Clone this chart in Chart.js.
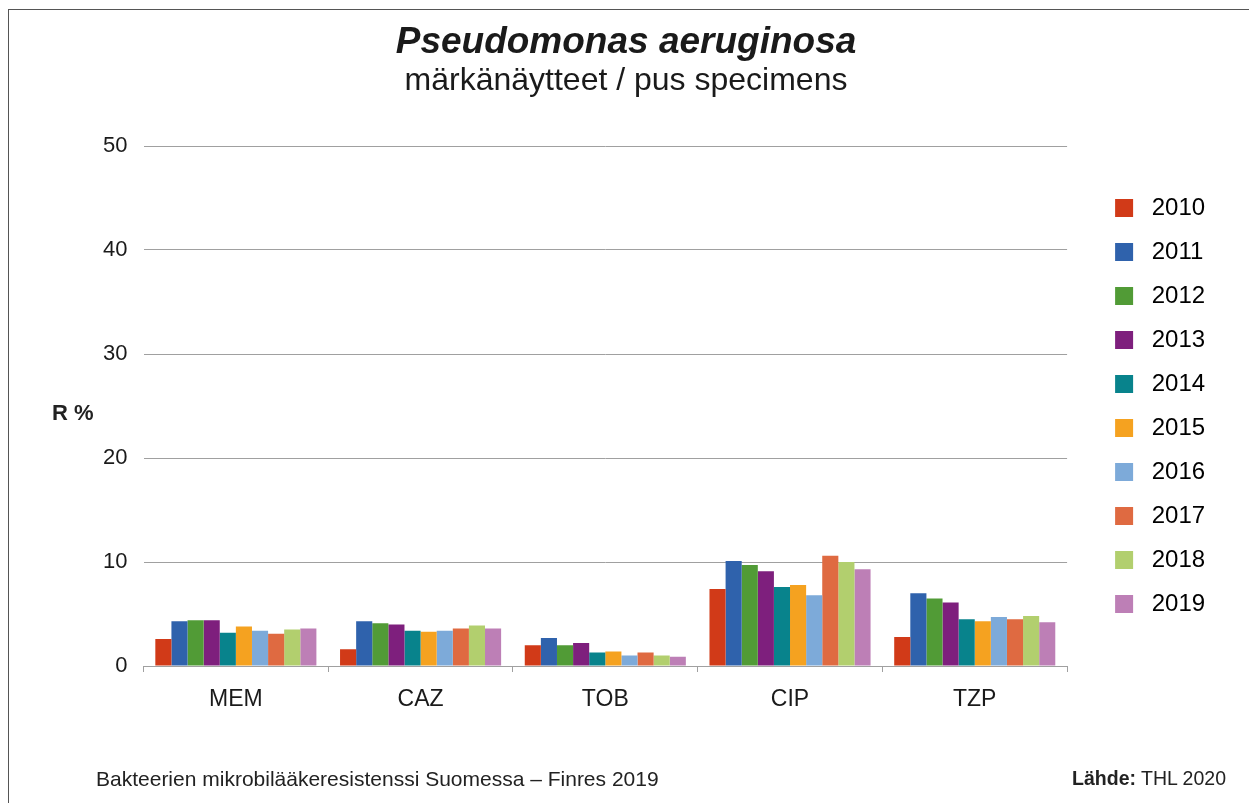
<!DOCTYPE html>
<html>
<head>
<meta charset="utf-8">
<title>Pseudomonas aeruginosa – märkänäytteet</title>
<script src="https://cdn.jsdelivr.net/npm/chart.js@4/dist/chart.umd.min.js"></script>
<style>
  html, body { margin: 0; padding: 0; background: #fff; }
  body { width: 1249px; height: 803px; position: relative; overflow: hidden;
         font-family: "Liberation Sans", Arial, sans-serif; color: #222; }
  #frame { position: absolute; left: 8px; top: 9px; width: 1300px; height: 900px;
           border-left: 1px solid #555; border-top: 1px solid #555; }
  #wrap { position: absolute; left: 0; top: 0; width: 1249px; height: 803px; }
  .txt { position: absolute; white-space: nowrap; line-height: 1; }
  #ylab { left: 52px; top: 402px; font-size: 22px; font-weight: bold; }
  #foot-l { left: 96px; top: 768px; font-size: 21px; }
  #foot-r { right: 23px; top: 769px; font-size: 19.5px; }
</style>
</head>
<body>
<div id="frame"></div>
<div id="wrap"><canvas id="chart" width="1249" height="803"></canvas></div>
<div class="txt" id="ylab">R %</div>
<div class="txt" id="foot-l">Bakteerien mikrobilääkeresistenssi Suomessa – Finres 2019</div>
<div class="txt" id="foot-r"><b>Lähde:</b> THL 2020</div>

<script>
// ---- data (R %) ----
const categories = ['MEM', 'CAZ', 'TOB', 'CIP', 'TZP'];
const years      = ['2010', '2011', '2012', '2013', '2014', '2015', '2016', '2017', '2018', '2019'];

const r2010 = [2.6, 1.6, 2.0,  7.4, 2.8];
const r2011 = [4.3, 4.3, 2.7, 10.1, 7.0];
const r2012 = [4.4, 4.1, 2.0,  9.7, 6.5];
const r2013 = [4.4, 4.0, 2.2,  9.1, 6.1];
const r2014 = [3.2, 3.4, 1.3,  7.6, 4.5];
const r2015 = [3.8, 3.3, 1.4,  7.8, 4.3];
const r2016 = [3.4, 3.4, 1.0,  6.8, 4.7];
const r2017 = [3.1, 3.6, 1.3, 10.6, 4.5];
const r2018 = [3.5, 3.9, 1.0, 10.0, 4.8];
const r2019 = [3.6, 3.6, 0.9,  9.3, 4.2];

const yTicks = [0, 10, 20, 30, 40, 50];

// ---- styling ----
const yearColors = ['#d13a18', '#2f62ac', '#519b36', '#7e1f7d', '#08838c',
                    '#f5a220', '#7daad9', '#df6a41', '#b2cf6e', '#bd7fb6'];
const series = [r2010, r2011, r2012, r2013, r2014, r2015, r2016, r2017, r2018, r2019];
const FONT = '"Liberation Sans", Arial, sans-serif';
const GRID = '#a0a0a0';

const datasets = years.map((y, i) => ({
  label: y,
  data: series[i],
  backgroundColor: yearColors[i],
  borderWidth: 0,
  categoryPercentage: 0.872,
  barPercentage: 1.0
}));

new Chart(document.getElementById('chart'), {
  type: 'bar',
  data: { labels: categories, datasets },
  options: {
    responsive: false,
    animation: false,
    devicePixelRatio: 1,
    // near-symmetric side padding so the title centres on the page;
    // the right margin lives inside the legend (trailing spaces)
    layout: { padding: { top: 24, left: 3.5, right: 0.5, bottom: 87 } },
    plugins: {
      title: {
        display: true,
        text: 'Pseudomonas aeruginosa',
        color: '#1a1a1a',
        font: { family: FONT, size: 37, weight: 'bold', style: 'italic', lineHeight: 1 },
        padding: { top: 0, bottom: 0 }
      },
      subtitle: {
        display: true,
        text: 'märkänäytteet / pus specimens',
        color: '#1a1a1a',
        font: { family: FONT, size: 32, lineHeight: 1 },
        padding: { top: 4.5, bottom: 48.5 }
      },
      legend: {
        position: 'right',
        fullSize: false,
        labels: {
          color: '#222',
          font: { family: FONT, size: 24 },
          boxWidth: 18,
          boxHeight: 18,
          padding: 20,
          generateLabels: chart => chart.data.datasets.map((ds, i) => ({
            text: ' ' + ds.label + '     ',
            fillStyle: ds.backgroundColor,
            strokeStyle: ds.backgroundColor,
            lineWidth: 0,
            hidden: false,
            datasetIndex: i
          }))
        }
      },
      tooltip: { enabled: false }
    },
    scales: {
      x: {
        grid: { display: true, offset: true, drawOnChartArea: false, drawTicks: true,
                tickLength: 6, color: GRID },
        border: { display: true, color: GRID, width: 1 },
        ticks: { color: '#1a1a1a', font: { family: FONT, size: 23 }, padding: 14 },
        afterFit: s => { s.height = 50; }
      },
      y: {
        min: 0,
        max: 50,
        afterBuildTicks: s => { s.ticks = yTicks.map(v => ({ value: v })); },
        grid: { color: GRID, drawTicks: false, lineWidth: 1 },
        border: { display: false },
        ticks: { color: '#1a1a1a', font: { family: FONT, size: 22 }, padding: 16 },
        afterFit: s => { s.width = 140; }
      },
      // empty spacer between plot and legend
      gap: {
        type: 'linear',
        position: 'right',
        display: true,
        grid: { display: false, drawTicks: false },
        border: { display: false },
        ticks: { display: false },
        afterFit: s => { s.width = 28; }
      }
    }
  }
});
</script>
</body>
</html>
